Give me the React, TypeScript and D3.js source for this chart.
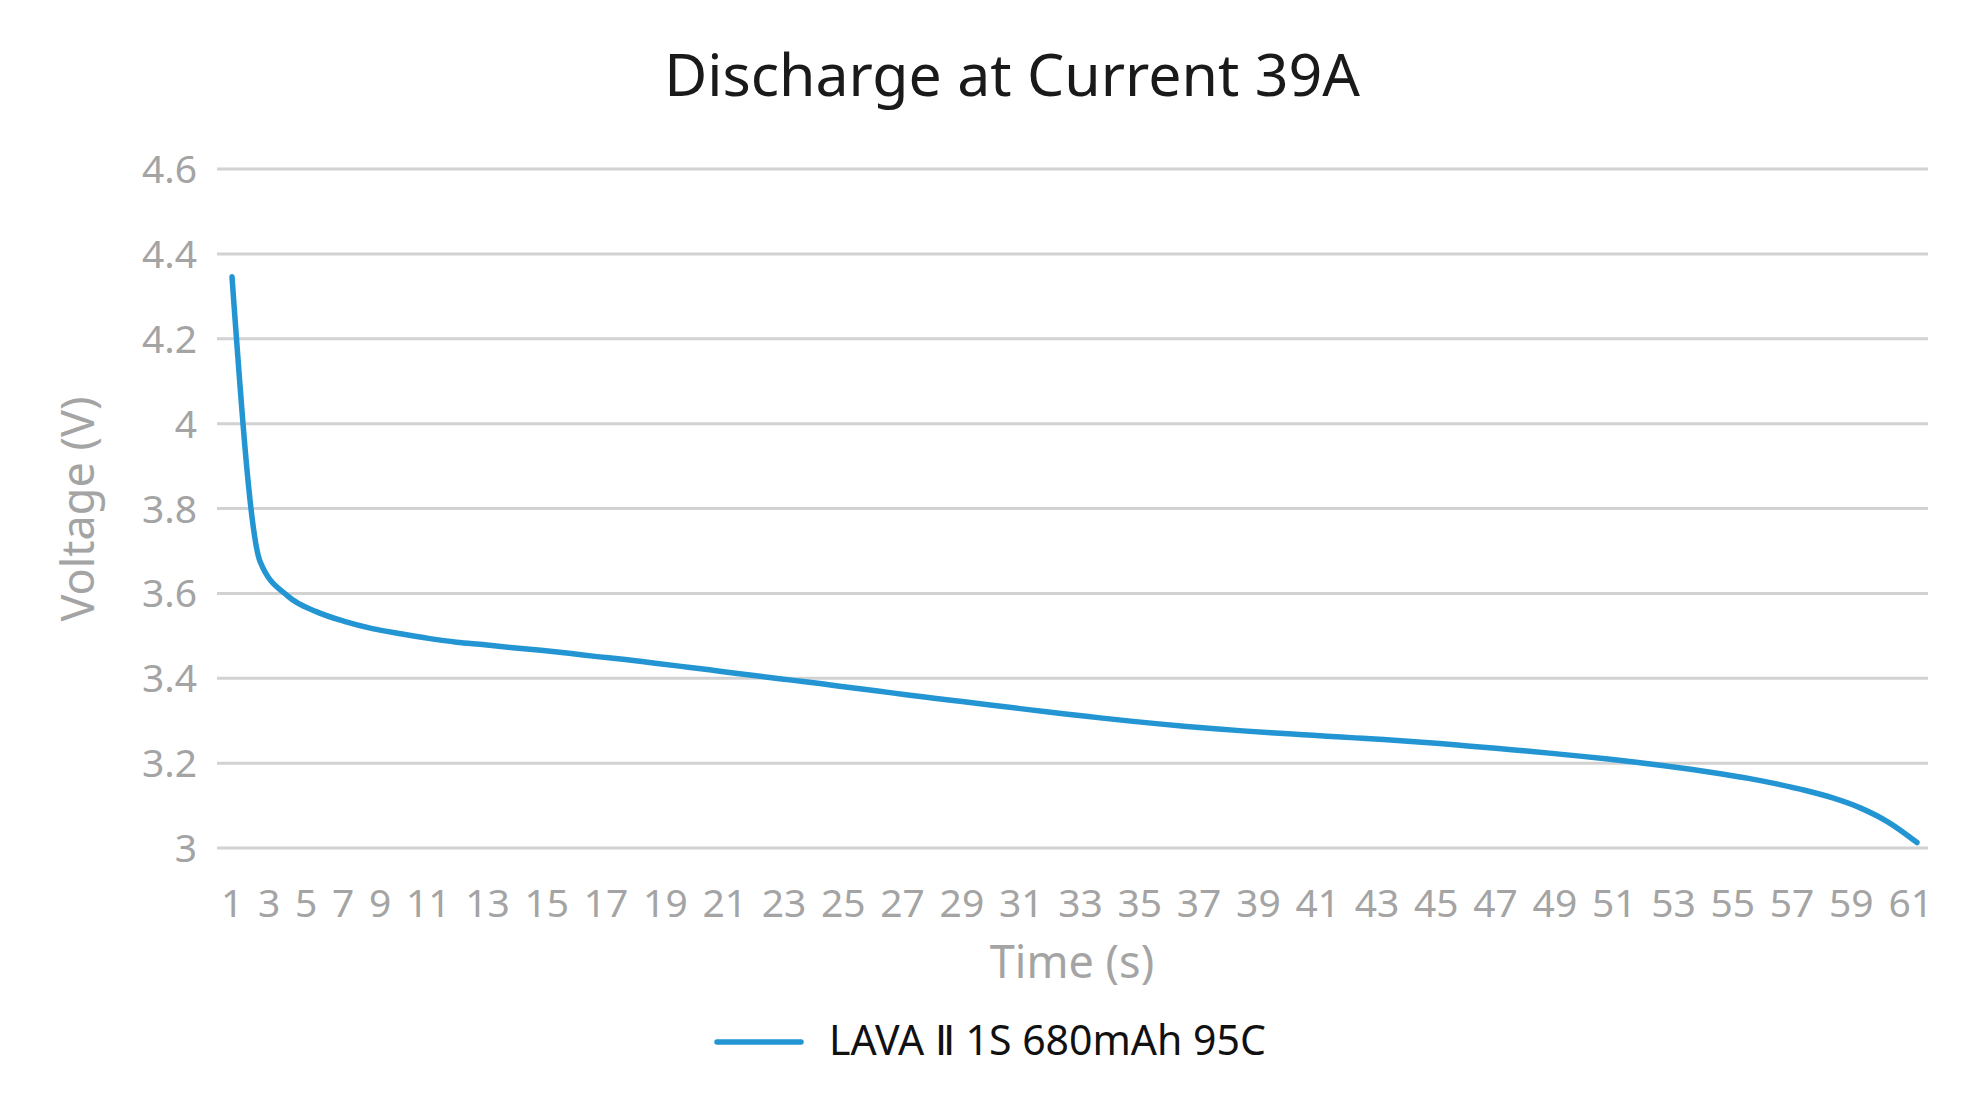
import React, { useEffect, useRef } from "react";
import * as d3 from "d3";

const TITLE = "Discharge at Current 39A";
const Y_TITLE = "Voltage (V)";
const X_TITLE = "Time (s)";
const SERIES_NAME = "LAVA Ⅱ 1S 680mAh 95C";

const times = [
  1, 2, 3, 4, 5, 6, 7, 8, 9, 10, 11, 12, 13, 14, 15, 16, 17, 18, 19, 20,
  21, 22, 23, 24, 25, 26, 27, 28, 29, 30, 31, 32, 33, 34, 35, 36, 37, 38, 39, 40,
  41, 42, 43, 44, 45, 46, 47, 48, 49, 50, 51, 52, 53, 54, 55, 56, 57, 58, 59, 60, 61,
];

const voltages = [
  4.346, 3.675, 3.593, 3.557, 3.534, 3.517, 3.505, 3.494, 3.485, 3.479,
  3.472, 3.466, 3.459, 3.451, 3.444, 3.436, 3.428, 3.42, 3.411, 3.403,
  3.395, 3.387, 3.378, 3.37, 3.361, 3.353, 3.345, 3.337, 3.329, 3.321,
  3.3135, 3.306, 3.299, 3.2925, 3.2865, 3.281, 3.276, 3.2715, 3.2675, 3.2635,
  3.2595, 3.2555, 3.251, 3.246, 3.2405, 3.235, 3.229, 3.223, 3.2165, 3.2095,
  3.202, 3.194, 3.185, 3.175, 3.164, 3.151, 3.136, 3.118, 3.094, 3.06, 3.013,
];

const xTickLabels = [
  "1", "3", "5", "7", "9", "11", "13", "15", "17", "19", "21", "23", "25", "27", "29", "31",
  "33", "35", "37", "39", "41", "43", "45", "47", "49", "51", "53", "55", "57", "59", "61",
];

const yTicks = [3, 3.2, 3.4, 3.6, 3.8, 4, 4.2, 4.4, 4.6];

const W = 1980;
const H = 1114;
const FONT = "'Noto Sans', 'Open Sans', sans-serif";
const GRAY = "#a4a4a4";
const BLUE = "#2295d2";

export default function App() {
  const xTickRef = useRef<SVGGElement | null>(null);

  const gridLeft = 217;
  const gridRight = 1928;
  const x = d3.scaleLinear().domain([1, 61]).range([232, 1917]);
  const y = d3.scaleLinear().domain([3, 4.6]).range([848, 169]);

  const line = d3
    .line<number>()
    .x((_, i) => x(times[i]))
    .y((d) => y(d))
    .curve(d3.curveMonotoneX);

  useEffect(() => {
    if (!xTickRef.current) return;
    const g = d3.select(xTickRef.current);
    g.selectAll("*").remove();
    const texts = g
      .selectAll("text")
      .data(xTickLabels)
      .enter()
      .append("text")
      .attr("y", 917)
      .attr("font-family", FONT)
      .attr("font-size", 39)
      .attr("fill", GRAY)
      .text((d) => d);
    const widths: number[] = [];
    texts.each(function () {
      widths.push((this as SVGTextElement).getComputedTextLength());
    });
    const startX = 221;
    const endX = 1933;
    const total = widths.reduce((a, b) => a + b, 0);
    const gap = (endX - startX - total) / (widths.length - 1);
    let cur = startX;
    const pos: number[] = [];
    widths.forEach((w) => {
      pos.push(cur);
      cur += w + gap;
    });
    texts.attr("x", (_, i) => pos[i]);
  }, []);

  return (
    <svg
      width={W}
      height={H}
      style={{ position: "absolute", left: 0, top: 0, background: "#ffffff" }}
    >
      <rect x={0} y={0} width={W} height={H} fill="#ffffff" />
      <text
        x={1012}
        y={96}
        textAnchor="middle"
        fontFamily={FONT}
        fontSize={59}
        fill="#1a1a1a"
      >
        {TITLE}
      </text>

      <g>
        {yTicks.map((t) => (
          <line
            key={t}
            x1={gridLeft}
            x2={gridRight}
            y1={y(t)}
            y2={y(t)}
            stroke="#d2d2d2"
            strokeWidth={3}
          />
        ))}
      </g>

      <g>
        {yTicks.map((t) => (
          <text
            key={t}
            x={197}
            y={y(t) + 14}
            textAnchor="end"
            fontFamily={FONT}
            fontSize={39}
            fill={GRAY}
          >
            {d3.format("~g")(t)}
          </text>
        ))}
      </g>

      <g ref={xTickRef} />

      <text
        x={1072}
        y={978}
        textAnchor="middle"
        fontFamily={FONT}
        fontSize={45}
        fill={GRAY}
      >
        {X_TITLE}
      </text>

      <text
        transform="translate(94,509) rotate(-90)"
        textAnchor="middle"
        fontFamily={FONT}
        fontSize={45}
        fill={GRAY}
      >
        {Y_TITLE}
      </text>

      <path
        d={line(voltages) || ""}
        fill="none"
        stroke={BLUE}
        strokeWidth={5.5}
        strokeLinecap="round"
        strokeLinejoin="round"
      />

      <g>
        <line
          x1={717}
          x2={801}
          y1={1042}
          y2={1042}
          stroke={BLUE}
          strokeWidth={5.5}
          strokeLinecap="round"
        />
        <text x={829} y={1055} fontFamily={FONT} fontSize={41} fill="#111111">
          {SERIES_NAME}
        </text>
      </g>
    </svg>
  );
}
